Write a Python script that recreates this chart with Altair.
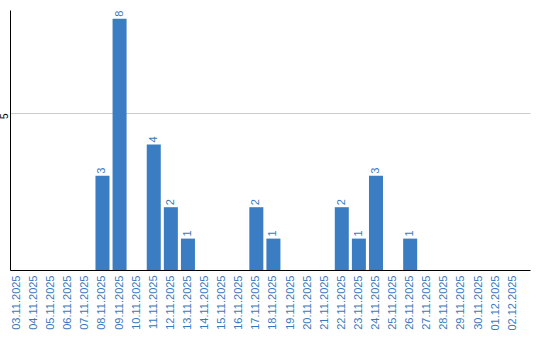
import altair as alt
import pandas as pd

dates = ["03.11.2025", "04.11.2025", "05.11.2025", "06.11.2025", "07.11.2025",
         "08.11.2025", "09.11.2025", "10.11.2025", "11.11.2025", "12.11.2025",
         "13.11.2025", "14.11.2025", "15.11.2025", "16.11.2025", "17.11.2025",
         "18.11.2025", "19.11.2025", "20.11.2025", "21.11.2025", "22.11.2025",
         "23.11.2025", "24.11.2025", "25.11.2025", "26.11.2025", "27.11.2025",
         "28.11.2025", "29.11.2025", "30.11.2025", "01.12.2025", "02.12.2025"]
counts = [0, 0, 0, 0, 0, 3, 8, 0, 4, 2, 1, 0, 0, 0, 2, 1, 0, 0, 0, 2, 1, 3, 0, 1, 0, 0, 0, 0, 0, 0]

df = pd.DataFrame({"date": dates, "count": counts})
df["label"] = df["count"].apply(lambda v: str(v) if v > 0 else "")

BAR = "#3b7dc3"
TXT = "#3a78bd"
FONT = "Liberation Sans"

x = alt.X("date:N", sort=dates, title=None,
          scale=alt.Scale(paddingInner=0.18, paddingOuter=0.3, align=0),
          axis=alt.Axis(labelAngle=-90, labelColor=TXT, labelFont=FONT, labelFontSize=11,
                        ticks=False, labelPadding=5, domainColor="black", grid=False))
y = alt.Y("count:Q", title=None,
          scale=alt.Scale(domain=[0, 8.28], nice=False, zero=True),
          axis=alt.Axis(values=[5], labelAngle=-90, ticks=False, labelPadding=1,
                        labelFont=FONT, labelFontSize=10, labelColor="black",
                        labelAlign="right", labelBaseline="bottom",
                        domainColor="black", gridColor="#cccccc"))

bars = alt.Chart(df).mark_bar(color=BAR).encode(x=x, y=y)
text = alt.Chart(df).mark_text(angle=270, align="left", baseline="middle", dx=2,
                                color=TXT, font=FONT, fontSize=11).encode(
    x=alt.X("date:N", sort=dates), y="count:Q", text="label:N")

chart = (bars + text).properties(
    width=520, height=260,
    autosize=alt.AutoSizeParams(type="none"),
    padding={"left": 10, "top": 10, "right": 10, "bottom": 70},
).configure_view(stroke=None)

chart.save("out.html", embed_options={"renderer": "svg", "actions": False})
